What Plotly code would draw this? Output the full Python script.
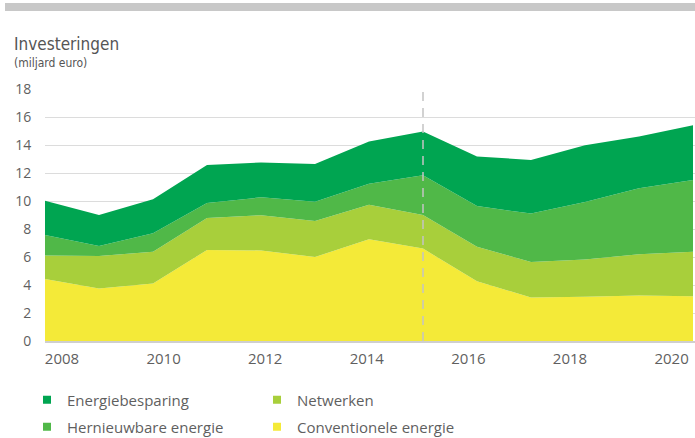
import plotly.graph_objects as go

# Investments in the Dutch energy system, billion euro
years = list(range(2008, 2021))
conventionele = [4.43, 3.75, 4.11, 6.50, 6.47, 6.00, 7.26, 6.60, 4.26, 3.11, 3.16, 3.25, 3.20]
netwerken = [1.67, 2.32, 2.27, 2.29, 2.51, 2.57, 2.48, 2.40, 2.48, 2.53, 2.67, 2.94, 3.18]
hernieuwbaar = [1.47, 0.71, 1.31, 1.07, 1.28, 1.38, 1.50, 2.84, 2.90, 3.46, 4.10, 4.72, 5.12]
energiebesparing = [2.45, 2.22, 2.43, 2.71, 2.49, 2.70, 3.01, 3.12, 3.54, 3.83, 4.05, 3.69, 3.91]

tick_labels = ["2008", "2010", "2012", "2014", "2016", "2018", "2020"]
y_ticks = list(range(0, 19, 2))
split_year = 2015

series = [
    ("Conventionele energie", conventionele, "#f4ea38"),
    ("Netwerken", netwerken, "#a8cf3b"),
    ("Hernieuwbare energie", hernieuwbaar, "#50b848"),
    ("Energiebesparing", energiebesparing, "#00a551"),
]
# two legend rows, two entries each
legend_rows = [
    ("legend", ["Energiebesparing", "Netwerken"]),
    ("legend2", ["Hernieuwbare energie", "Conventionele energie"]),
]

W, H = 695, 438
ML, MR, MT, MB = 45, 0, 89, 97
PW, PH = W - ML - MR, H - MT - MB
PX_PER_YEAR = 54.0

TEXT = "#5f5f5f"
FONT = "Open Sans, Noto Sans, sans-serif"
NARROW = "Liberation Sans Narrow, DejaVu Sans Condensed, sans-serif"

fig = go.Figure()
for name, vals, color in series:
    fig.add_trace(go.Scatter(
        x=years, y=vals, name=name, stackgroup="all", mode="lines",
        line=dict(width=0, color=color), fillcolor=color,
        showlegend=False, hoverinfo="x+y+name",
    ))

# legend swatches (small squares)
colors = {n: c for n, _, c in series}
for legend_id, names in legend_rows:
    for rank, name in enumerate(names):
        fig.add_trace(go.Scatter(
            x=[None], y=[None], name=name, mode="markers",
            marker=dict(symbol="square", size=8, color=colors[name]),
            legend=legend_id, legendrank=rank + 1, showlegend=True,
        ))

# year labels are laid out on their own even grid along the axis
label_step = 101.6 / PX_PER_YEAR
label_start = years[0] + (62 - ML) / PX_PER_YEAR
tick_pos = [label_start + i * label_step for i in range(len(tick_labels))]
x_end = years[0] + PW / PX_PER_YEAR

legend_style = dict(
    orientation="h", xref="container", yref="container",
    x=27 / W, xanchor="left", yanchor="middle",
    entrywidth=185, entrywidthmode="pixels",
    font=dict(size=15, color=TEXT, family=FONT),
    traceorder="normal", bgcolor="rgba(0,0,0,0)",
)

fig.update_layout(
    width=W, height=H,
    margin=dict(l=ML, r=MR, t=MT, b=MB),
    paper_bgcolor="white", plot_bgcolor="white",
    font=dict(family=FONT, color=TEXT, size=14),
    xaxis=dict(
        range=[years[0], x_end], tickmode="array", tickvals=tick_pos, ticktext=tick_labels,
        showgrid=False, zeroline=False, showline=True, linecolor="#cfcfcf", linewidth=2,
        ticks="outside", ticklen=3, tickcolor="rgba(0,0,0,0)",
        tickfont=dict(size=15, color=TEXT, family=FONT),
    ),
    yaxis=dict(
        range=[0, 18], tickmode="array", tickvals=y_ticks,
        showgrid=True, gridcolor="#dcdcdc", gridwidth=1, zeroline=False,
        ticks="outside", ticklen=10, tickcolor="rgba(0,0,0,0)",
        tickfont=dict(size=14, color=TEXT, family=FONT),
    ),
    legend=dict(legend_style, y=1 - 400 / H),
    legend2=dict(legend_style, y=1 - 427 / H),
    showlegend=True,
)

# gray band across the top
fig.add_shape(type="rect", xref="paper", yref="paper",
              x0=(5 - ML) / PW, x1=(W - ML) / PW,
              y0=(H - MB - 11) / PH, y1=(H - MB - 3) / PH,
              fillcolor="#c8c8c8", line=dict(width=0), layer="above")

# dashed marker between realised and projected years
fig.add_shape(type="line", xref="x", yref="paper", x0=split_year, x1=split_year,
              y0=0, y1=1, line=dict(color="#c4c4c4", width=1.5, dash="9px,7px"),
              layer="above")

fig.add_annotation(text="Investeringen", xref="paper", yref="paper",
                   x=(12 - ML) / PW, y=(H - MB - 44) / PH, xanchor="left", yanchor="middle",
                   showarrow=False, font=dict(family=NARROW, size=17, color="#555555"))
fig.add_annotation(text="(miljard euro)", xref="paper", yref="paper",
                   x=(12 - ML) / PW, y=(H - MB - 63) / PH, xanchor="left", yanchor="middle",
                   showarrow=False, font=dict(family=NARROW, size=12, color="#555555"))

fig.write_html("out.html")
